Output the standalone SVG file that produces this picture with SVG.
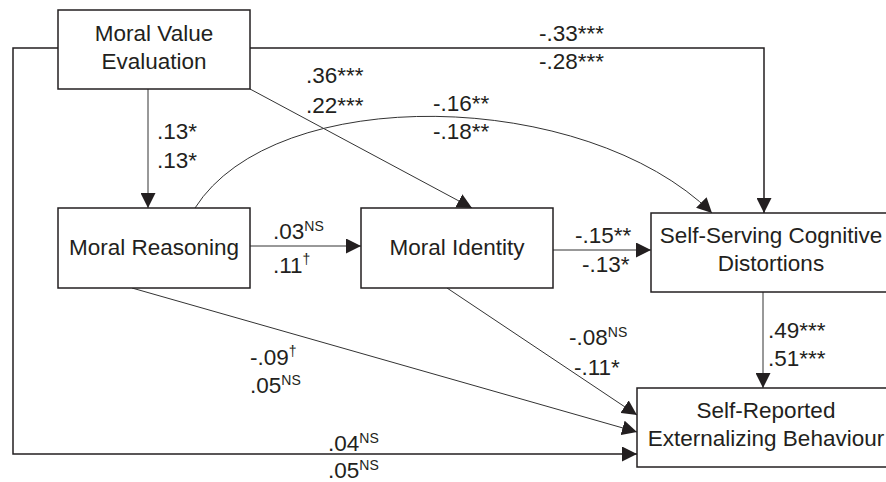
<svg xmlns="http://www.w3.org/2000/svg" width="886" height="482" viewBox="0 0 886 482">
<style>
.box{fill:#fff;stroke:#231f20;stroke-width:1.5}
.lbl{font-family:"Liberation Sans",Arial,sans-serif;font-size:22.5px;fill:#231f20}
.mid{text-anchor:middle}
.sup{font-size:14px}
.c{fill:none;stroke:#333;stroke-width:1}
.cw{fill:none;stroke:#231f20;stroke-width:1.5}
</style>
<defs>
<marker id="ah" markerUnits="userSpaceOnUse" markerWidth="15" markerHeight="15" refX="15" refY="7.5" orient="auto">
<path d="M0,0 L15,7.5 L0,15 z" fill="#231f20"/>
</marker>
</defs>
<g id="connectors">
<path class="c" d="M148,89 V208" marker-end="url(#ah)"/>
<path class="c" d="M250,89 L472,208" marker-end="url(#ah)"/>
<path class="cw" d="M250,48 H764 V213" marker-end="url(#ah)"/>
<path class="cw" d="M58,48 H13 V454 H637" marker-end="url(#ah)"/>
<path class="c" d="M195,208 C275,82 585,88 712,213" marker-end="url(#ah)"/>
<path class="c" d="M250,246 H361" marker-end="url(#ah)"/>
<path class="c" d="M553,250 H651" marker-end="url(#ah)"/>
<path class="c" d="M132,288 L637,432" marker-end="url(#ah)"/>
<path class="c" d="M447,288 L637,415" marker-end="url(#ah)"/>
<path class="c" d="M763,292 V388" marker-end="url(#ah)"/>
</g>
<g id="labels" class="lbl">
<text x="157" y="139">.13*</text>
<text x="157" y="168">.13*</text>
<text x="306" y="83">.36***</text>
<text x="306" y="113">.22***</text>
<text x="433" y="111">-.16**</text>
<text x="433" y="139">-.18**</text>
<text x="539" y="41">-.33***</text>
<text x="539" y="69">-.28***</text>
<text x="273" y="239">.03<tspan class="sup" dy="-8">NS</tspan></text>
<text x="273" y="273">.11<tspan class="sup" dy="-9">†</tspan></text>
<text x="575" y="243">-.15**</text>
<text x="582" y="272">-.13*</text>
<text x="768" y="338">.49***</text>
<text x="768" y="366">.51***</text>
<text x="569" y="345">-.08<tspan class="sup" dy="-8">NS</tspan></text>
<text x="574" y="375">-.11*</text>
<text x="250" y="365">-.09<tspan class="sup" dy="-9">†</tspan></text>
<text x="250" y="393">.05<tspan class="sup" dy="-8">NS</tspan></text>
<text x="328" y="451">.04<tspan class="sup" dy="-8">NS</tspan></text>
<text x="328" y="478">.05<tspan class="sup" dy="-8">NS</tspan></text>
</g>
<g id="mve">
<rect class="box" x="58" y="10" width="192" height="79"/>
<text class="lbl mid" x="154" y="41">Moral Value</text>
<text class="lbl mid" x="154" y="69">Evaluation</text>
</g>
<g id="mr">
<rect class="box" x="58" y="208" width="192" height="80"/>
<text class="lbl mid" x="154" y="255">Moral Reasoning</text>
</g>
<g id="mi">
<rect class="box" x="361" y="208" width="192" height="80"/>
<text class="lbl mid" x="457" y="255">Moral Identity</text>
</g>
<g id="sscd">
<rect class="box" x="651" y="213" width="250" height="79"/>
<text class="lbl mid" x="771" y="243">Self-Serving Cognitive</text>
<text class="lbl mid" x="771" y="271">Distortions</text>
</g>
<g id="sreb">
<rect class="box" x="637" y="388" width="262" height="79"/>
<text class="lbl mid" x="766" y="418">Self-Reported</text>
<text class="lbl mid" x="766" y="446">Externalizing Behaviour</text>
</g>
</svg>
